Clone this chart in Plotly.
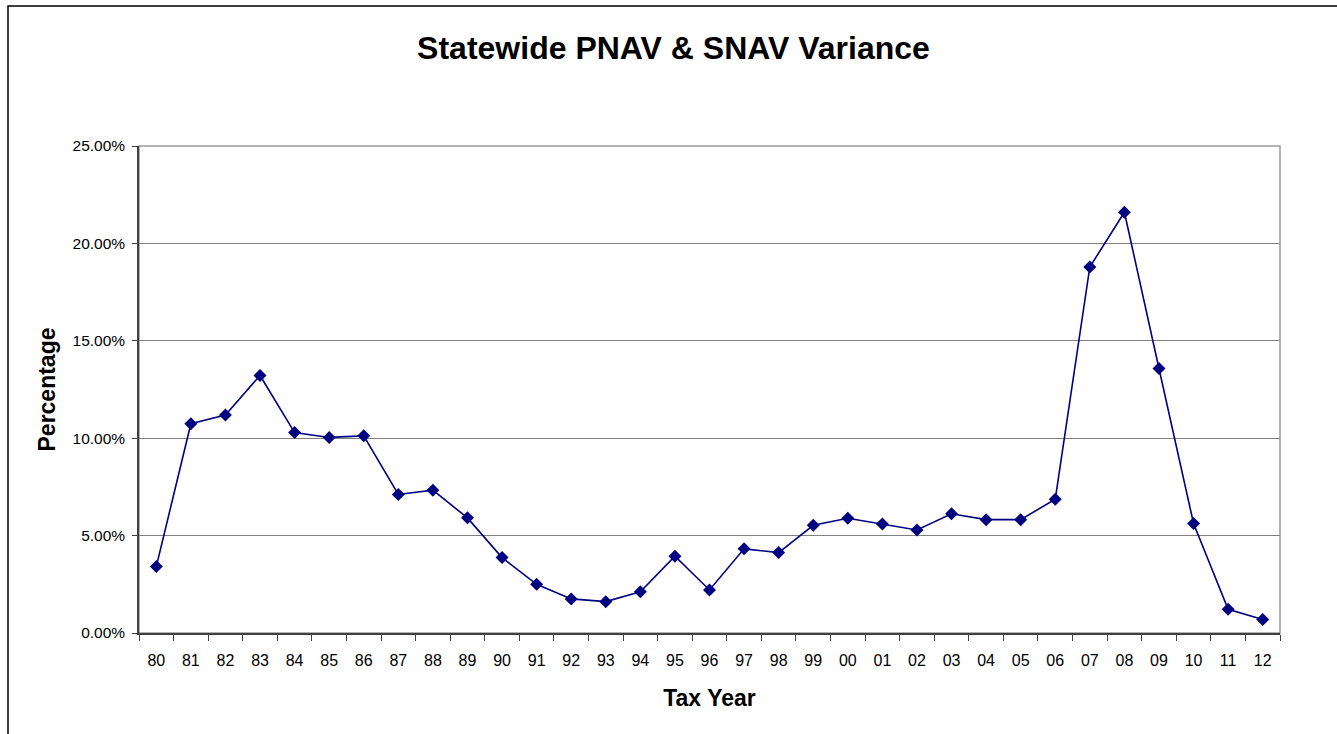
import plotly.graph_objects as go

years = ["80", "81", "82", "83", "84", "85", "86", "87", "88", "89",
         "90", "91", "92", "93", "94", "95", "96", "97", "98", "99",
         "00", "01", "02", "03", "04", "05", "06", "07", "08", "09",
         "10", "11", "12"]
variance_pct = [3.41, 10.74, 11.19, 13.22, 10.29, 10.04, 10.12, 7.11, 7.33, 5.91,
                3.87, 2.50, 1.75, 1.61, 2.12, 3.94, 2.21, 4.32, 4.13, 5.53,
                5.89, 5.60, 5.29, 6.12, 5.82, 5.82, 6.87, 18.79, 21.60, 13.58,
                5.62, 1.22, 0.69]
variance = [v / 100 for v in variance_pct]
y_ticks = [0, 0.05, 0.10, 0.15, 0.20, 0.25]

W, H = 1337, 734
L, R, T, B = 139, 57, 146, 101
pw, ph = W - L - R, H - T - B

navy = "#000080"
font = "Liberation Sans, Arial, sans-serif"

fig = go.Figure()
fig.add_trace(go.Scatter(
    x=years, y=variance, mode="lines+markers",
    line=dict(color=navy, width=1.6),
    marker=dict(symbol="diamond", size=10, color=navy),
    showlegend=False,
    hovertemplate="%{x}: %{y:.2%}<extra></extra>",
))

# outer chart border (extends past right/bottom edges)
fig.add_shape(type="rect", xref="paper", yref="paper",
              x0=(8 - L) / pw, x1=(W + 10 - L) / pw,
              y0=(H - B - (H + 10)) / ph, y1=(H - B - 6) / ph,
              line=dict(color="black", width=1.5), layer="below")
# plot area border
fig.add_shape(type="rect", xref="paper", yref="paper", x0=0, x1=1, y0=0, y1=1,
              line=dict(color="#9a9a9a", width=1.5), layer="below")

fig.update_layout(
    width=W, height=H,
    margin=dict(l=L, r=R, t=T, b=B, pad=0),
    paper_bgcolor="white", plot_bgcolor="white",
    font=dict(family=font, color="black", size=15),
    title=dict(text="<b>Statewide PNAV & SNAV Variance</b>",
               font=dict(size=32, family=font, color="black"),
               x=673.5 / W, xref="container", xanchor="center",
               y=1 - 48 / H, yref="container", yanchor="middle"),
    xaxis=dict(type="category", categoryorder="array", categoryarray=years,
               range=[-0.5, len(years) - 0.5],
               tickson="boundaries", ticks="outside", ticklen=6, tickwidth=1,
               tickcolor="#404040", ticklabelstandoff=12,
               showline=True, linecolor="#404040", linewidth=1.5,
               showgrid=False, zeroline=False,
               tickfont=dict(size=16, family=font, color="black"),
               title=dict(text="<b>Tax Year</b>",
                          font=dict(size=23, family=font, color="black"),
                          standoff=22)),
    yaxis=dict(range=[0, 0.25], tickvals=y_ticks, tickformat=".2%",
               ticks="outside", ticklen=5, tickwidth=1, tickcolor="#404040",
               ticklabelstandoff=4,
               showline=True, linecolor="#404040", linewidth=1.5,
               showgrid=True, gridcolor="#808080", gridwidth=1,
               zeroline=False,
               tickfont=dict(size=15.5, family=font, color="black"),
               title=dict(text="<b>Percentage</b>",
                          font=dict(size=23, family=font, color="black"),
                          standoff=11)),
)

fig.write_html("out.html", post_script="document.body.style.margin='0';",
               config={"displayModeBar": False})
